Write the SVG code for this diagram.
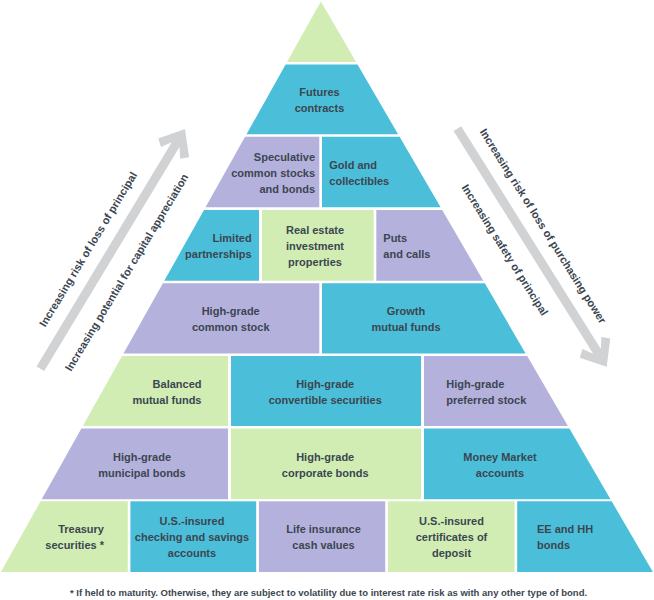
<svg xmlns="http://www.w3.org/2000/svg" width="654" height="600" viewBox="0 0 654 600">
<style>
.g{fill:#d2edb4}
.c{fill:#4bbfd9}
.p{fill:#b5b1dd}
.t{font-family:"Liberation Sans",Arial,sans-serif;font-weight:bold;font-size:11px;fill:#3b4650}
.m{text-anchor:middle}
.e{text-anchor:end}
.ar{fill:#d1d2d4}
.fn{font-family:"Liberation Sans",Arial,sans-serif;font-weight:bold;font-size:9.5px;fill:#3b4650;text-anchor:middle}
</style>
<rect width="654" height="600" fill="#ffffff"/>
<g id="apex"><polygon class="g" points="320.9,1.6 356.1,62 287,62"/></g>
<g id="futures"><polygon class="c" points="285.6,64.5 357.5,64.5 398.1,134.3 246.5,134.3"/>
<text class="t m" x="319.5" y="96">Futures</text><text class="t m" x="319.5" y="112">contracts</text></g>
<g id="speculative"><polygon class="p" points="245.1,136.8 319.3,136.8 319.3,207.3 205.5,207.3"/>
<text class="t e" x="315" y="160.7">Speculative</text><text class="t e" x="315" y="176.7">common stocks</text><text class="t e" x="315" y="192.7">and bonds</text></g>
<g id="gold"><polygon class="c" points="322,136.8 399.6,136.8 440.6,207.3 322,207.3"/>
<text class="t" x="329.3" y="168.7">Gold and</text><text class="t" x="329.3" y="184.7">collectibles</text></g>
<g id="limited"><polygon class="c" points="204,210 259,210 259,280.7 164.3,280.7"/>
<text class="t e" x="251.7" y="242">Limited</text><text class="t e" x="251.7" y="258">partnerships</text></g>
<g id="realestate"><rect class="g" x="262" y="210" width="111.7" height="70.7"/>
<text class="t m" x="315" y="234">Real estate</text><text class="t m" x="315" y="250">investment</text><text class="t m" x="315" y="266">properties</text></g>
<g id="puts"><polygon class="p" points="376.3,210 442.2,210 483.3,280.7 376.3,280.7"/>
<text class="t" x="383.3" y="242">Puts</text><text class="t" x="383.3" y="258">and calls</text></g>
<g id="commonstock"><polygon class="p" points="162.9,283.3 319.3,283.3 319.3,353.4 123.5,353.4"/>
<text class="t m" x="230.7" y="315">High-grade</text><text class="t m" x="230.7" y="331">common stock</text></g>
<g id="growth"><polygon class="c" points="322,283.3 484.8,283.3 525.6,353.4 322,353.4"/>
<text class="t m" x="406" y="315">Growth</text><text class="t m" x="406" y="331">mutual funds</text></g>
<g id="balanced"><polygon class="g" points="122.1,356 228,356 228,426 82.8,426"/>
<text class="t e" x="201.5" y="387.6">Balanced</text><text class="t e" x="201.5" y="403.6">mutual funds</text></g>
<g id="convertible"><rect class="c" x="231" y="356" width="190" height="70"/>
<text class="t m" x="325.2" y="387.6">High-grade</text><text class="t m" x="325.2" y="403.6">convertible securities</text></g>
<g id="preferred"><polygon class="p" points="424,356 527.2,356 567.9,426 424,426"/>
<text class="t" x="446.2" y="387.6">High-grade</text><text class="t" x="446.2" y="403.6">preferred stock</text></g>
<g id="municipal"><polygon class="p" points="81.4,428.5 228,428.5 228,499.2 41.7,499.2"/>
<text class="t m" x="142" y="460.5">High-grade</text><text class="t m" x="142" y="476.5">municipal bonds</text></g>
<g id="corporate"><rect class="g" x="231" y="428.5" width="190" height="70.7"/>
<text class="t m" x="325.2" y="460.5">High-grade</text><text class="t m" x="325.2" y="476.5">corporate bonds</text></g>
<g id="moneymarket"><polygon class="c" points="424,428.5 569.4,428.5 610.5,499.2 424,499.2"/>
<text class="t m" x="500" y="460.5">Money Market</text><text class="t m" x="500" y="476.5">accounts</text></g>
<g id="treasury"><polygon class="g" points="40.6,501.3 127.8,501.3 127.8,572 0.9,572"/>
<text class="t e" x="104" y="533.3">Treasury</text><text class="t e" x="104" y="549.3">securities *</text></g>
<g id="checking"><rect class="c" x="130.4" y="501.3" width="125.8" height="70.7"/>
<text class="t m" x="192" y="525.3">U.S.-insured</text><text class="t m" x="192" y="541.3">checking and savings</text><text class="t m" x="192" y="557.3">accounts</text></g>
<g id="lifeinsurance"><rect class="p" x="258.9" y="501.3" width="126.3" height="70.7"/>
<text class="t m" x="323.5" y="533.3">Life insurance</text><text class="t m" x="323.5" y="549.3">cash values</text></g>
<g id="certificates"><rect class="g" x="388" y="501.3" width="126.6" height="70.7"/>
<text class="t m" x="451.5" y="525.3">U.S.-insured</text><text class="t m" x="451.5" y="541.3">certificates of</text><text class="t m" x="451.5" y="557.3">deposit</text></g>
<g id="eebonds"><polygon class="c" points="517.2,501.3 611.7,501.3 652.9,572 517.2,572"/>
<text class="t" x="537" y="533.3">EE and HH</text><text class="t" x="537" y="549.3">bonds</text></g>
<g id="connectors">
<g id="arrow-up" transform="translate(185 129) rotate(-58.9)">
<polygon class="ar" points="0,0 -22,-18 -27.9,-11.2 -18.2,-4.5 -280,-4.5 -280,4.5 -18.2,4.5 -27.9,11.2 -22,18"/>
<text class="t m" x="-153" y="-17">Increasing risk of loss of principal</text>
<text class="t m" x="-153" y="28">Increasing potential for capital appreciation</text>
</g>
<g id="arrow-down" transform="translate(606.7 366.7) rotate(57.9)">
<polygon class="ar" points="0,0 -22,-18 -27.9,-11.2 -18.2,-4.5 -281,-4.5 -281,4.5 -18.2,4.5 -27.9,11.2 -22,18"/>
<text class="t m" x="-153" y="-17">Increasing risk of loss of purchasing power</text>
<text class="t m" x="-153" y="28">Increasing safety of principal</text>
</g>
</g>
<text class="fn" x="328.5" y="596">* If held to maturity. Otherwise, they are subject to volatility due to interest rate risk as with any other type of bond.</text>
</svg>
